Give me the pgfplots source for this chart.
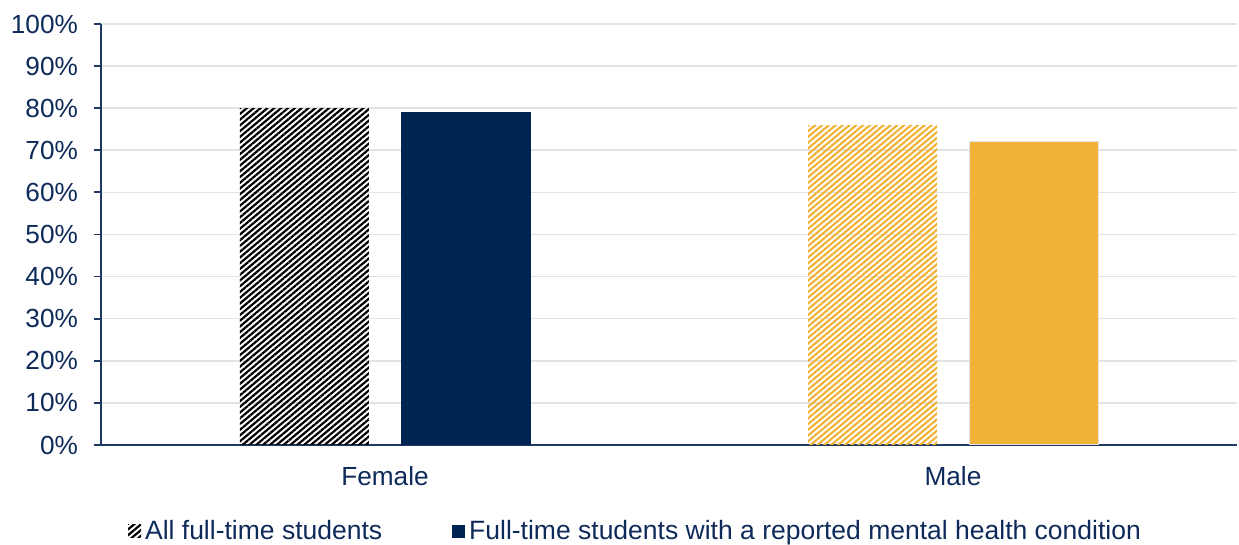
\documentclass[border=0pt]{standalone}
\usepackage{fontspec}
\setmainfont{Liberation Sans}
\usepackage{pgfplots}
\pgfplotsset{compat=1.18}
\usetikzlibrary{patterns.meta}

\definecolor{barnavy}{HTML}{002452}
\definecolor{bargold}{HTML}{F0B337}
\definecolor{axisnavy}{HTML}{1F3864}
\definecolor{txtnavy}{HTML}{0E2A5A}
\definecolor{gridgray}{HTML}{E3E3E3}

\begin{document}
\begin{tikzpicture}
\begin{axis}[
  scale only axis,
  width=568pt, height=210.5pt,
  xmin=-0.5, xmax=1.5,
  ymin=0, ymax=100,
  axis lines*=left,
  axis line style={axisnavy, line width=0.9pt, -},
  xtick={0,1},
  xticklabels={Female,Male},
  x tick style={draw=none},
  ytick={0,10,...,100},
  yticklabel={\pgfmathprintnumber{\tick}\%},
  y tick style={axisnavy, line width=0.9pt},
  tick align=outside,
  major tick length=3.5pt,
  ymajorgrids,
  grid style={gridgray, line width=0.8pt},
  /pgf/number format/assume math mode=true,
  tick label style={font=\fontsize{13.1}{15}\selectfont, text=txtnavy},
  yticklabel style={xshift=-4.5pt},
  xticklabel style={yshift=-3.5pt},
  ybar,
  bar width=64.5pt,
  legend columns=2,
  legend style={draw=none, fill=none, at={(0.4714,-0.2043)}, anchor=center,
    font=\fontsize{13.25}{15}\selectfont, text=txtnavy,
    /tikz/every even column/.append style={column sep=33pt}},
  legend image code/.code={\path[#1,draw=none] (0pt,-3.25pt) rectangle (6.5pt,3.25pt);},
]
% All full-time students, Female
\addplot[draw=none, pattern={Lines[angle=40,distance=2.2pt,line width=1.1pt]}, pattern color=black, bar shift=-40.25pt]
  coordinates {(0,80)};
% Students with a reported mental health condition, Female
\addplot[draw=none, fill=barnavy, bar shift=40.5pt]
  coordinates {(0,79)};
% All full-time students, Male
\addplot[forget plot, draw=none, pattern={Lines[angle=40,distance=2.2pt,line width=1.1pt]}, pattern color=bargold, bar shift=-40.25pt]
  coordinates {(1,76)};
% Students with a reported mental health condition, Male
\addplot[forget plot, draw=gridgray, line width=0.6pt, fill=bargold, bar shift=40.5pt]
  coordinates {(1,72)};
\legend{All full-time students, Full-time students with a reported mental health condition}
\end{axis}
\pgfresetboundingbox
\path[use as bounding box] (-50.5pt,-50pt) rectangle (569pt,222.5pt);
\end{tikzpicture}
\end{document}
